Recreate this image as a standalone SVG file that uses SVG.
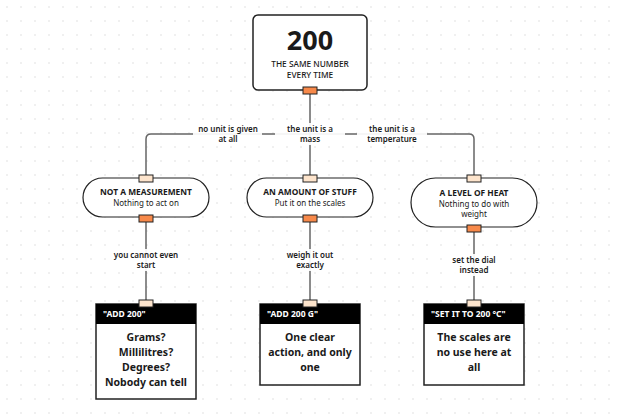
<svg xmlns="http://www.w3.org/2000/svg" width="620" height="415" viewBox="0 0 620 415">
<defs>
<pattern id="dots" width="14" height="14" patternUnits="userSpaceOnUse">
<circle cx="7" cy="7" r="0.7" fill="#d6d6d6"/>
</pattern>
<style>
text{font-family:"Noto Sans","Liberation Sans",sans-serif;fill:#1a1a1a;text-anchor:middle}
.title{font-size:27px;font-weight:700}
.sub{font-size:8.3px;font-weight:500}
.pillh{font-size:8.4px;font-weight:700}
.pills{font-size:8px;font-weight:400}
.lbl{font-size:8px;font-weight:600}
.hdr{font-size:8.5px;font-weight:700;fill:#fff;text-anchor:start}
.body{font-size:10.5px;font-weight:700}
.box{fill:#fff;stroke:#222;stroke-width:1.5}
.pill{fill:#fff;stroke:#222;stroke-width:1.2}
.po{fill:#f7894a;stroke:#222;stroke-width:1}
.pi{fill:#fde4cc;stroke:#222;stroke-width:1}
.wire{fill:none;stroke:#666;stroke-width:1.5}
.lb{fill:#fff;opacity:0.92}
</style>
</defs>
<rect width="620" height="415" fill="#fff"/>
<rect width="620" height="415" fill="url(#dots)"/>

<g id="connectors">
<path class="wire" d="M310 94 V134 H151 Q146 134 146 139 V175"/>
<path class="wire" d="M310 134 V175"/>
<path class="wire" d="M310 134 H469 Q474 134 474 139 V175"/>
<path class="wire" d="M146 222 V301"/>
<path class="wire" d="M310 222 V301"/>
<path class="wire" d="M474 232 V301"/>
<rect class="lb" x="193" y="123" width="69" height="22"/>
<text class="lbl" x="228" y="132">no unit is given</text>
<text class="lbl" x="228" y="142">at all</text>
<rect class="lb" x="275" y="123" width="70" height="22"/>
<text class="lbl" x="310" y="132">the unit is a</text>
<text class="lbl" x="310" y="142">mass</text>
<rect class="lb" x="357" y="123" width="70" height="22"/>
<text class="lbl" x="392" y="132">the unit is a</text>
<text class="lbl" x="392" y="142">temperature</text>
<rect class="lb" x="110" y="249" width="72" height="22"/>
<text class="lbl" x="146" y="258">you cannot even</text>
<text class="lbl" x="146" y="268">start</text>
<rect class="lb" x="282" y="249" width="56" height="22"/>
<text class="lbl" x="310" y="258">weigh it out</text>
<text class="lbl" x="310" y="268">exactly</text>
<rect class="lb" x="448" y="254" width="52" height="22"/>
<text class="lbl" x="474" y="263">set the dial</text>
<text class="lbl" x="474" y="273">instead</text>
</g>

<g id="root">
<rect class="box" x="253" y="15" width="114" height="75" rx="5"/>
<text class="title" x="310" y="50">200</text>
<text class="sub" x="310" y="67">THE SAME NUMBER</text>
<text class="sub" x="310" y="78">EVERY TIME</text>
<rect class="po" x="303" y="87" width="14" height="7"/>
</g>

<g id="not-measurement">
<rect class="pill" x="83" y="178" width="126" height="39" rx="19.5"/>
<text class="pillh" x="146" y="195">NOT A MEASUREMENT</text>
<text class="pills" x="146" y="206">Nothing to act on</text>
<rect class="pi" x="139" y="175" width="14" height="7"/>
<rect class="po" x="139" y="215" width="14" height="7"/>
</g>

<g id="amount-of-stuff">
<rect class="pill" x="247" y="178" width="126" height="39" rx="19.5"/>
<text class="pillh" x="310" y="195">AN AMOUNT OF STUFF</text>
<text class="pills" x="310" y="206">Put it on the scales</text>
<rect class="pi" x="303" y="175" width="14" height="7"/>
<rect class="po" x="303" y="215" width="14" height="7"/>
</g>

<g id="level-of-heat">
<rect class="pill" x="411" y="178" width="126" height="49" rx="24.5"/>
<text class="pillh" x="474" y="196">A LEVEL OF HEAT</text>
<text class="pills" x="474" y="207">Nothing to do with</text>
<text class="pills" x="474" y="217">weight</text>
<rect class="pi" x="467" y="175" width="14" height="7"/>
<rect class="po" x="467" y="225" width="14" height="7"/>
</g>

<g id="add-200">
<rect class="box" x="96" y="304" width="100" height="95"/>
<rect x="96" y="304" width="100" height="20" fill="#000"/>
<text class="hdr" x="103" y="317">"ADD 200"</text>
<text class="body" x="146" y="341">Grams?</text>
<text class="body" x="146" y="356">Millilitres?</text>
<text class="body" x="146" y="371">Degrees?</text>
<text class="body" x="146" y="386">Nobody can tell</text>
<rect class="pi" x="139" y="300" width="14" height="7"/>
</g>

<g id="add-200-g">
<rect class="box" x="260" y="304" width="100" height="81"/>
<rect x="260" y="304" width="100" height="20" fill="#000"/>
<text class="hdr" x="267" y="317">"ADD 200 G"</text>
<text class="body" x="310" y="341">One clear</text>
<text class="body" x="310" y="356">action, and only</text>
<text class="body" x="310" y="371">one</text>
<rect class="pi" x="303" y="300" width="14" height="7"/>
</g>

<g id="set-200-c">
<rect class="box" x="424" y="304" width="100" height="81"/>
<rect x="424" y="304" width="100" height="20" fill="#000"/>
<text class="hdr" x="431" y="317">"SET IT TO 200 °C"</text>
<text class="body" x="474" y="341">The scales are</text>
<text class="body" x="474" y="356">no use here at</text>
<text class="body" x="474" y="371">all</text>
<rect class="pi" x="467" y="300" width="14" height="7"/>
</g>
</svg>
